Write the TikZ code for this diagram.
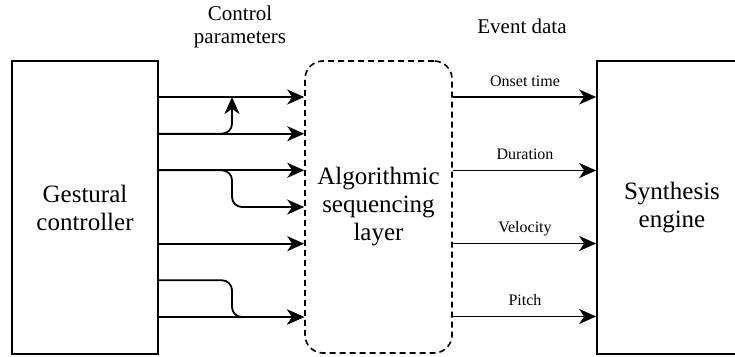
\documentclass[tikz,border=0pt]{standalone}
\usepackage{fontspec}
\setmainfont{Liberation Serif}
\usetikzlibrary{arrows.meta,calc}
\begin{document}
\begin{tikzpicture}[x=1pt,y=-1pt,
  box/.style={draw, line width=1.7pt, inner sep=0pt, align=center,
    font=\fontsize{25}{28}\selectfont},
  dbox/.style={box, dash pattern=on 6pt off 4pt, line width=1.6pt, rounded corners=18pt},
  arr/.style={line width=1.8pt, -{Stealth[length=17pt,width=15pt,inset=5pt]}},
  lab/.style={font=\fontsize{16}{19}\selectfont, anchor=base, inner sep=0pt},
  toplab/.style={font=\fontsize{21}{23}\selectfont, align=center, inner sep=0pt}]
\useasboundingbox (0,0) rectangle (735,356);
\clip (0,0) rectangle (735,356);
\node[box, minimum width=146pt, minimum height=293pt] (gc) at (85,207.5) {Gestural\\controller};
\node[dbox, minimum width=147pt, minimum height=292pt] (alg) at (378.5,207) {Algorithmic\\sequencing\\layer};
\node[box, minimum width=150pt, minimum height=293pt] (se) at (672,207.5) {Synthesis\\engine};
\node[toplab] (cp) at (240,26.5) {Control\\parameters};
\node[toplab, anchor=base] (ed) at (522,33) {Event data};
% left connectors
\draw[arr] (gc.east |- 0,97) -- (alg.west |- 0,97);
\draw[arr] (gc.east |- 0,133.7) -- (alg.west |- 0,133.7);
\coordinate (j1) at (232,97);
\draw[arr, rounded corners=10pt] (gc.east |- 0,133.7) -- (232,133.7) -- (j1);
\draw[arr] (gc.east |- 0,170.3) -- (alg.west |- 0,170.3);
\draw[arr, rounded corners=10pt] (gc.east |- 0,170.3) -- (232,170.3) -- (232,207) -- (alg.west |- 0,207);
\draw[arr] (gc.east |- 0,243.7) -- (alg.west |- 0,243.7);
\draw[arr, rounded corners=10pt] (gc.east |- 0,280.3) -- (232,280.3) -- (232,317) -- (alg.west |- 0,317);
\draw[arr] (gc.east |- 0,317) -- (alg.west |- 0,317);
% right connectors
\draw[arr] (alg.east |- 0,97) -- (se.west |- 0,97);
\draw[arr] (alg.east |- 0,170.5) -- (se.west |- 0,170.5);
\draw[arr] (alg.east |- 0,243.5) -- (se.west |- 0,243.5);
\draw[arr] (alg.east |- 0,316.5) -- (se.west |- 0,316.5);
\node[lab] (l1) at (525,86) {Onset time};
\node[lab] (l2) at (525,159.5) {Duration};
\node[lab] (l3) at (525,232.5) {Velocity};
\node[lab] (l4) at (525,305.5) {Pitch};
\end{tikzpicture}
\end{document}
